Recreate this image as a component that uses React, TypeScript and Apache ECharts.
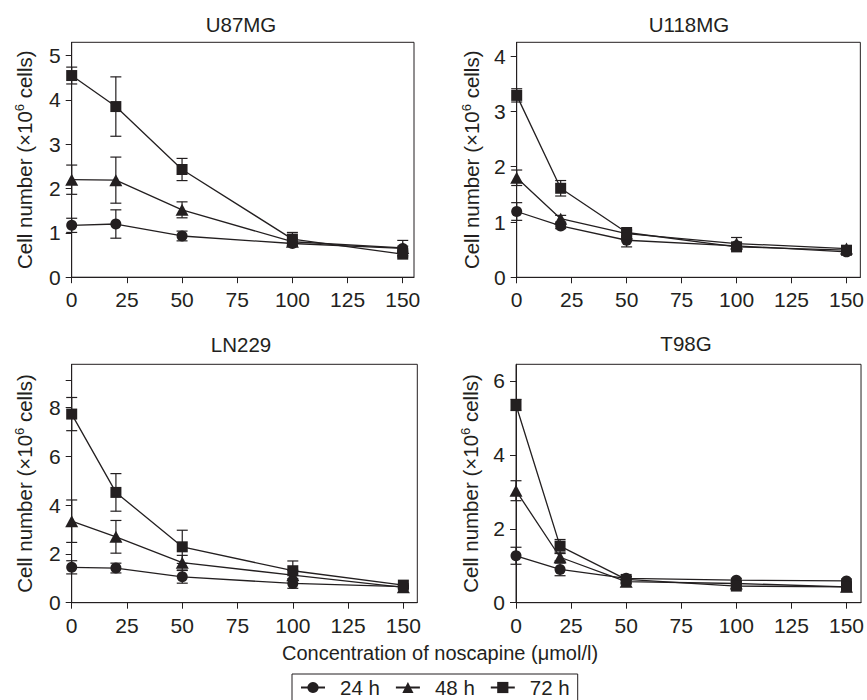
import React, { useEffect, useRef } from 'react';
import * as echarts from 'echarts';

// ---- data ----
const concentrations = [0, 20, 50, 100, 150];
const xTickValues = [0, 25, 50, 75, 100, 125, 150];
const seriesNames = ['24 h', '48 h', '72 h'];
const panelTitles = ['U87MG', 'U118MG', 'LN229', 'T98G'];
const xAxisTitle = 'Concentration of noscapine (\u03bcmol/l)';

const u87mg24 = [1.17, 1.2, 0.93, 0.76, 0.65];
const u87mg24Err = [0.16, 0.32, 0.11, 0.05, 0.05];
const u87mg48 = [2.2, 2.19, 1.52, 0.8, 0.66];
const u87mg48Err = [0.33, 0.52, 0.18, 0.08, 0.17];
const u87mg72 = [4.55, 3.85, 2.43, 0.86, 0.52];
const u87mg72Err = [0.19, 0.67, 0.25, 0.15, 0.06];

const u118mg24 = [1.19, 0.93, 0.67, 0.57, 0.46];
const u118mg24Err = [0.16, 0.05, 0.12, 0.05, 0.05];
const u118mg48 = [1.8, 1.06, 0.79, 0.61, 0.52];
const u118mg48Err = [0.14, 0.06, 0.05, 0.11, 0.05];
const u118mg72 = [3.29, 1.61, 0.81, 0.55, 0.49];
const u118mg72Err = [0.12, 0.14, 0.05, 0.05, 0.05];

const ln22924 = [1.45, 1.42, 1.06, 0.79, 0.66];
const ln22924Err = [0.27, 0.2, 0.26, 0.2, 0.05];
const ln22948 = [3.34, 2.7, 1.64, 1.13, 0.63];
const ln22948Err = [0.87, 0.67, 0.3, 0.2, 0.05];
const ln22972 = [7.73, 4.52, 2.29, 1.31, 0.72];
const ln22972Err = [0.68, 0.77, 0.68, 0.4, 0.05];

const t98g24 = [1.27, 0.9, 0.66, 0.61, 0.59];
const t98g24Err = [0.23, 0.17, 0.05, 0.05, 0.05];
const t98g48 = [3.03, 1.23, 0.57, 0.52, 0.43];
const t98g48Err = [0.27, 0.1, 0.05, 0.05, 0.05];
const t98g72 = [5.35, 1.53, 0.63, 0.45, 0.43];
const t98g72Err = [0.15, 0.18, 0.08, 0.05, 0.05];

const yTicksU87 = [0, 1, 2, 3, 4, 5];
const yTicksU118 = [0, 1, 2, 3, 4];
const yTicksLN229 = [0, 2, 4, 6, 8];
const yTickMarksLN229 = [0, 2, 4, 6, 8, 9.1];
const yTicksT98G = [0, 2, 4, 6];

const panelMeans = [
  [u87mg24, u87mg48, u87mg72],
  [u118mg24, u118mg48, u118mg72],
  [ln22924, ln22948, ln22972],
  [t98g24, t98g48, t98g72],
];
const panelErrs = [
  [u87mg24Err, u87mg48Err, u87mg72Err],
  [u118mg24Err, u118mg48Err, u118mg72Err],
  [ln22924Err, ln22948Err, ln22972Err],
  [t98g24Err, t98g48Err, t98g72Err],
];
const panelYLabels = [yTicksU87, yTicksU118, yTicksLN229, yTicksT98G];
const panelYTicks = [yTicksU87, yTicksU118, yTickMarksLN229, yTicksT98G];

// ---- layout / style ----
const FONT = '"Liberation Sans", Arial, Helvetica, sans-serif';
const INK = '#231f20';
const symbols = ['circle', 'triangle', 'rect'];
const symbolSizes: any[] = [11, [13, 12], 11];

const layouts = [
  { left: 71.7, top: 42.3, width: 342.3, height: 234.9, xMax: 155.1, yMax: 5.3, nameGap: 37, titleX: 241, titleY: 14 },
  { left: 516.7, top: 42.3, width: 345, height: 235, xMax: 156.3, yMax: 4.25, nameGap: 35, titleX: 689, titleY: 14 },
  { left: 71.7, top: 364.3, width: 345.6, height: 238.4, xMax: 156.3, yMax: 9.77, nameGap: 37, titleX: 241, titleY: 334 },
  { left: 516, top: 364.3, width: 346.3, height: 238.4, xMax: 156.6, yMax: 6.45, nameGap: 35, titleX: 686, titleY: 332.5 },
];

function buildOption() {
  const grid: any[] = [];
  const xAxis: any[] = [];
  const yAxis: any[] = [];
  const series: any[] = [];
  const title: any[] = [];

  layouts.forEach((L, p) => {
    grid.push({
      left: L.left,
      top: L.top,
      width: L.width,
      height: L.height,
      show: true,
      borderColor: INK,
      borderWidth: 1,
      backgroundColor: 'transparent',
    });
    xAxis.push({
      type: 'value',
      gridIndex: p,
      min: 0,
      max: L.xMax,
      axisLine: { show: true, onZero: false, lineStyle: { color: INK, width: 1 } },
      axisTick: { show: true, length: 6, inside: false, customValues: xTickValues, lineStyle: { color: INK, width: 1 } },
      axisLabel: {
        customValues: xTickValues,
        margin: 12,
        color: INK,
        fontFamily: FONT,
        fontSize: 21,
      },
      splitLine: { show: false },
    });
    yAxis.push({
      type: 'value',
      gridIndex: p,
      min: 0,
      max: L.yMax,
      name: '{n|Cell number (\u00d710}{s|6}{n| cells)}',
      nameLocation: 'middle',
      nameGap: L.nameGap,
      nameRotate: 90,
      nameTextStyle: {
        color: INK,
        fontFamily: FONT,
        fontSize: 20,
        rich: {
          n: { fontFamily: FONT, fontSize: 20.5, color: INK, lineHeight: 22, verticalAlign: 'bottom' },
          s: { fontFamily: FONT, fontSize: 13, color: INK, lineHeight: 22, verticalAlign: 'top' },
        },
      },
      axisLine: { show: true, onZero: false, lineStyle: { color: INK, width: 1 } },
      axisTick: { show: true, length: 6, inside: false, customValues: panelYTicks[p], lineStyle: { color: INK, width: 1 } },
      axisLabel: {
        customValues: panelYLabels[p],
        margin: 11,
        color: INK,
        fontFamily: FONT,
        fontSize: 21,
      },
      splitLine: { show: false },
    });
    title.push({
      text: panelTitles[p],
      left: L.titleX,
      top: L.titleY,
      textAlign: 'center',
      padding: 0,
      textStyle: { color: INK, fontFamily: FONT, fontSize: 20.5, fontWeight: 'normal' },
    });

    const errData: any[] = [];
    panelMeans[p].forEach((vals, s) => {
      series.push({
        type: 'line',
        name: seriesNames[s],
        xAxisIndex: p,
        yAxisIndex: p,
        data: concentrations.map((c, i) => [c, vals[i]]),
        symbol: symbols[s],
        symbolSize: symbolSizes[s],
        showSymbol: true,
        clip: false,
        z: 3 + s,
        color: INK,
        lineStyle: { color: INK, width: 1.3 },
        itemStyle: { color: INK, borderWidth: 0 },
      });
      vals.forEach((v, i) => errData.push([concentrations[i], v, panelErrs[p][s][i]]));
    });
    series.push({
      type: 'custom',
      xAxisIndex: p,
      yAxisIndex: p,
      data: errData,
      encode: { x: 0, y: 1 },
      z: 2,
      silent: true,
      renderItem: (params: any, api: any) => {
        const x = api.value(0);
        const y = api.value(1);
        const e = api.value(2);
        const t = api.coord([x, y + e]);
        const b = api.coord([x, y - e]);
        const w = 5.5;
        const st = { stroke: INK, lineWidth: 1.2 };
        return {
          type: 'group',
          children: [
            { type: 'line', shape: { x1: t[0], y1: t[1], x2: b[0], y2: b[1] }, style: st },
            { type: 'line', shape: { x1: t[0] - w, y1: t[1], x2: t[0] + w, y2: t[1] }, style: st },
            { type: 'line', shape: { x1: b[0] - w, y1: b[1], x2: b[0] + w, y2: b[1] }, style: st },
          ],
        };
      },
    });
  });

  title.push({
    text: xAxisTitle,
    left: 440,
    top: 643,
    textAlign: 'center',
    padding: 0,
    textStyle: { color: INK, fontFamily: FONT, fontSize: 20, fontWeight: 'normal' },
  });

  return {
    animation: false,
    backgroundColor: '#ffffff',
    title,
    grid,
    xAxis,
    yAxis,
    series,
    legend: {
      data: seriesNames,
      left: 292,
      top: 674,
      orient: 'horizontal',
      padding: [3, 8, 12, 8],
      borderColor: INK,
      borderWidth: 1,
      itemWidth: 24,
      itemHeight: 14,
      itemGap: 15,
      textStyle: { color: INK, fontFamily: FONT, fontSize: 20.5, padding: [0, 0, 0, 10] },
    },
  };
}

export default function App() {
  const ref = useRef<HTMLDivElement>(null);
  useEffect(() => {
    if (!ref.current) return;
    const chart = echarts.init(ref.current, null, { renderer: 'svg' });
    chart.setOption(buildOption() as any);
    return () => chart.dispose();
  }, []);
  return (
    <div
      ref={ref}
      style={{ position: 'absolute', left: 0, top: 0, width: 867, height: 700, background: '#fff' }}
    />
  );
}
